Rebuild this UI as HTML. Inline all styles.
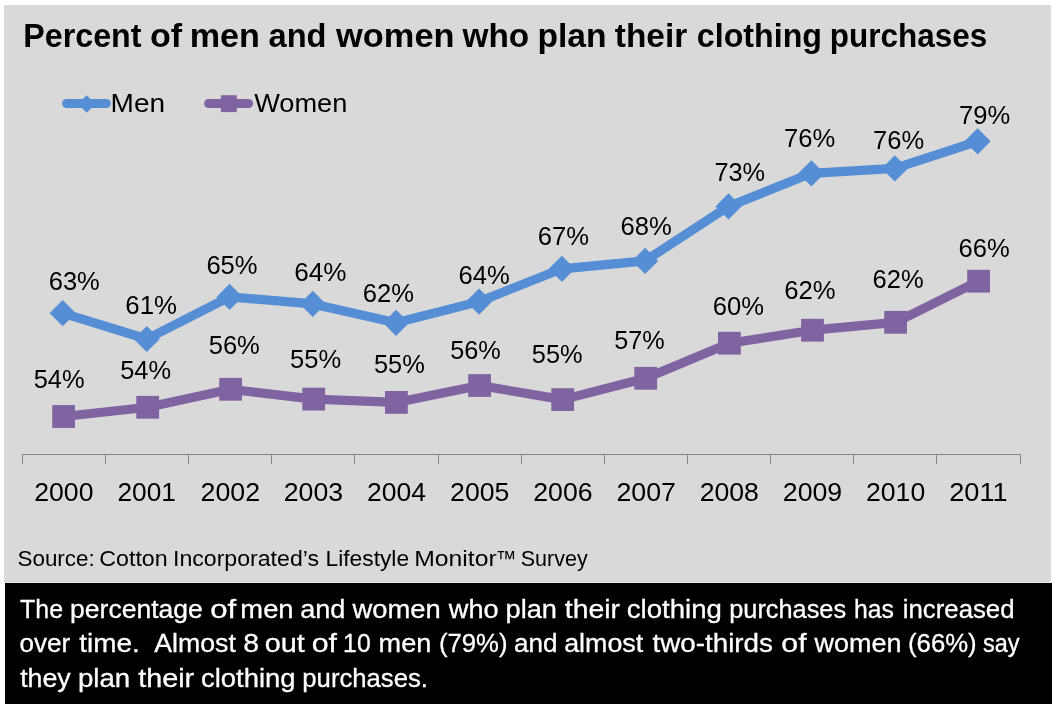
<!DOCTYPE html>
<html lang="en"><head><meta charset="utf-8"><title>Percent of men and women who plan their clothing purchases</title>
<style>html,body{margin:0;padding:0;background:#fff;}body{width:1052px;height:713px;overflow:hidden;}svg{display:block;font-family:"Liberation Sans",Arial,Helvetica,sans-serif;}</style>
</head><body>
<svg width="1052" height="713" viewBox="0 0 1052 713">
<rect x="0" y="0" width="1052" height="713" fill="#fff"/>
<rect x="4" y="5" width="1047" height="578" fill="#d9d9d9"/>
<rect x="5" y="582" width="1047" height="1" fill="#e8e8e8"/>
<rect x="5" y="583" width="1047" height="121" fill="#000"/>
<g id="title">
<text x="23.35" y="46.70" font-size="33.6" font-weight="bold" fill="#000" textLength="118.15" lengthAdjust="spacingAndGlyphs">Percent</text>
<text x="150.07" y="46.70" font-size="33.6" font-weight="bold" fill="#000" textLength="32.16" lengthAdjust="spacingAndGlyphs">of</text>
<text x="189.75" y="46.70" font-size="33.6" font-weight="bold" fill="#000" textLength="70.17" lengthAdjust="spacingAndGlyphs">men</text>
<text x="268.54" y="46.70" font-size="33.6" font-weight="bold" fill="#000" textLength="58.01" lengthAdjust="spacingAndGlyphs">and</text>
<text x="336.10" y="46.70" font-size="33.6" font-weight="bold" fill="#000" textLength="118.43" lengthAdjust="spacingAndGlyphs">women</text>
<text x="462.50" y="46.70" font-size="33.6" font-weight="bold" fill="#000" textLength="66.71" lengthAdjust="spacingAndGlyphs">who</text>
<text x="537.38" y="46.70" font-size="33.6" font-weight="bold" fill="#000" textLength="69.10" lengthAdjust="spacingAndGlyphs">plan</text>
<text x="614.79" y="46.70" font-size="33.6" font-weight="bold" fill="#000" textLength="72.41" lengthAdjust="spacingAndGlyphs">their</text>
<text x="696.84" y="46.70" font-size="33.6" font-weight="bold" fill="#000" textLength="125.11" lengthAdjust="spacingAndGlyphs">clothing</text>
<text x="829.83" y="46.70" font-size="33.6" font-weight="bold" fill="#000" textLength="157.36" lengthAdjust="spacingAndGlyphs">purchases</text>
</g>
<g id="legend">
<line x1="66.65" y1="103.5" x2="106.35" y2="103.5" stroke="#558ed5" stroke-width="9.1" stroke-linecap="round"/>
<path d="M86.7 95.3 L95.4 104 L86.7 112.7 L78 104 Z" fill="#558ed5"/>
<text x="110.60" y="112.00" font-size="25.6" fill="#000" textLength="54.52" lengthAdjust="spacingAndGlyphs">Men</text>
<line x1="208.65" y1="103.55" x2="248.55" y2="103.55" stroke="#8064a2" stroke-width="9.1" stroke-linecap="round"/>
<rect x="220.9" y="95.2" width="15.9" height="16.9" fill="#8064a2"/>
<text x="254.18" y="112.00" font-size="25.6" fill="#000" textLength="93.18" lengthAdjust="spacingAndGlyphs">Women</text>
</g>
<g id="axis" stroke="#868686" stroke-width="1" fill="none" shape-rendering="crispEdges">
<line x1="22" y1="454.5" x2="1021" y2="454.5"/>
<line x1="22.5" y1="454" x2="22.5" y2="464"/>
<line x1="105.5" y1="454" x2="105.5" y2="464"/>
<line x1="188.5" y1="454" x2="188.5" y2="464"/>
<line x1="271.5" y1="454" x2="271.5" y2="464"/>
<line x1="354.5" y1="454" x2="354.5" y2="464"/>
<line x1="438.5" y1="454" x2="438.5" y2="464"/>
<line x1="521.5" y1="454" x2="521.5" y2="464"/>
<line x1="604.5" y1="454" x2="604.5" y2="464"/>
<line x1="687.5" y1="454" x2="687.5" y2="464"/>
<line x1="770.5" y1="454" x2="770.5" y2="464"/>
<line x1="853.5" y1="454" x2="853.5" y2="464"/>
<line x1="936.5" y1="454" x2="936.5" y2="464"/>
<line x1="1020.5" y1="454" x2="1020.5" y2="464"/>
</g>
<polyline points="63.6,416.5 147.7,407.3 230.6,389.3 313.7,399.1 396.4,402.4 479.6,385.5 562.7,399.6 645.7,378.3 729.4,343.2 812.5,330.2 895.6,322.3 978.6,281.2" fill="none" stroke="#8064a2" stroke-width="9.2" stroke-linejoin="round" stroke-linecap="round"/>
<rect x="52.2" y="405.1" width="22.8" height="22.8" fill="#8064a2"/>
<rect x="136.3" y="395.9" width="22.8" height="22.8" fill="#8064a2"/>
<rect x="219.2" y="377.9" width="22.8" height="22.8" fill="#8064a2"/>
<rect x="302.3" y="387.7" width="22.8" height="22.8" fill="#8064a2"/>
<rect x="385.0" y="391.0" width="22.8" height="22.8" fill="#8064a2"/>
<rect x="468.2" y="374.1" width="22.8" height="22.8" fill="#8064a2"/>
<rect x="551.3" y="388.2" width="22.8" height="22.8" fill="#8064a2"/>
<rect x="634.3" y="366.9" width="22.8" height="22.8" fill="#8064a2"/>
<rect x="718.0" y="331.8" width="22.8" height="22.8" fill="#8064a2"/>
<rect x="801.1" y="318.8" width="22.8" height="22.8" fill="#8064a2"/>
<rect x="884.2" y="310.9" width="22.8" height="22.8" fill="#8064a2"/>
<rect x="967.2" y="269.8" width="22.8" height="22.8" fill="#8064a2"/>
<polyline points="62.7,313.2 146.8,339.0 229.6,296.9 312.8,303.9 396.1,322.8 479.1,301.6 561.9,268.8 645.1,260.9 728.5,206.4 811.4,173.3 894.8,168.4 977.6,141.3" fill="none" stroke="#558ed5" stroke-width="9.2" stroke-linejoin="round" stroke-linecap="round"/>
<path d="M62.7 300.1 L75.8 313.2 L62.7 326.3 L49.6 313.2 Z" fill="#558ed5"/>
<path d="M146.8 325.9 L159.9 339.0 L146.8 352.1 L133.7 339.0 Z" fill="#558ed5"/>
<path d="M229.6 283.8 L242.7 296.9 L229.6 310.0 L216.5 296.9 Z" fill="#558ed5"/>
<path d="M312.8 290.8 L325.9 303.9 L312.8 317.0 L299.7 303.9 Z" fill="#558ed5"/>
<path d="M396.1 309.7 L409.2 322.8 L396.1 335.9 L383.0 322.8 Z" fill="#558ed5"/>
<path d="M479.1 288.5 L492.2 301.6 L479.1 314.7 L466.0 301.6 Z" fill="#558ed5"/>
<path d="M561.9 255.7 L575.0 268.8 L561.9 281.9 L548.8 268.8 Z" fill="#558ed5"/>
<path d="M645.1 247.8 L658.2 260.9 L645.1 274.0 L632.0 260.9 Z" fill="#558ed5"/>
<path d="M728.5 193.3 L741.6 206.4 L728.5 219.5 L715.4 206.4 Z" fill="#558ed5"/>
<path d="M811.4 160.2 L824.5 173.3 L811.4 186.4 L798.3 173.3 Z" fill="#558ed5"/>
<path d="M894.8 155.3 L907.9 168.4 L894.8 181.5 L881.7 168.4 Z" fill="#558ed5"/>
<path d="M977.6 128.2 L990.7 141.3 L977.6 154.4 L964.5 141.3 Z" fill="#558ed5"/>
<g id="labels">
<text x="48.70" y="289.60" font-size="25.3" fill="#000" textLength="51.11" lengthAdjust="spacingAndGlyphs">63%</text>
<text x="125.39" y="313.80" font-size="25.3" fill="#000" textLength="51.73" lengthAdjust="spacingAndGlyphs">61%</text>
<text x="206.40" y="274.20" font-size="25.3" fill="#000" textLength="51.21" lengthAdjust="spacingAndGlyphs">65%</text>
<text x="294.17" y="280.80" font-size="25.3" fill="#000" textLength="52.26" lengthAdjust="spacingAndGlyphs">64%</text>
<text x="362.70" y="301.50" font-size="25.3" fill="#000" textLength="51.21" lengthAdjust="spacingAndGlyphs">62%</text>
<text x="458.50" y="284.20" font-size="25.3" fill="#000" textLength="51.21" lengthAdjust="spacingAndGlyphs">64%</text>
<text x="537.70" y="244.50" font-size="25.3" fill="#000" textLength="51.21" lengthAdjust="spacingAndGlyphs">67%</text>
<text x="620.50" y="235.30" font-size="25.3" fill="#000" textLength="51.21" lengthAdjust="spacingAndGlyphs">68%</text>
<text x="714.40" y="180.50" font-size="25.3" fill="#000" textLength="50.70" lengthAdjust="spacingAndGlyphs">73%</text>
<text x="783.99" y="146.50" font-size="25.3" fill="#000" textLength="51.22" lengthAdjust="spacingAndGlyphs">76%</text>
<text x="872.99" y="148.80" font-size="25.3" fill="#000" textLength="51.12" lengthAdjust="spacingAndGlyphs">76%</text>
<text x="958.99" y="123.60" font-size="25.3" fill="#000" textLength="51.12" lengthAdjust="spacingAndGlyphs">79%</text>
<text x="33.68" y="388.30" font-size="25.3" fill="#000" textLength="50.93" lengthAdjust="spacingAndGlyphs">54%</text>
<text x="120.18" y="378.90" font-size="25.3" fill="#000" textLength="50.93" lengthAdjust="spacingAndGlyphs">54%</text>
<text x="208.68" y="354.40" font-size="25.3" fill="#000" textLength="51.13" lengthAdjust="spacingAndGlyphs">56%</text>
<text x="289.98" y="367.50" font-size="25.3" fill="#000" textLength="51.13" lengthAdjust="spacingAndGlyphs">55%</text>
<text x="373.98" y="373.40" font-size="25.3" fill="#000" textLength="50.93" lengthAdjust="spacingAndGlyphs">55%</text>
<text x="450.19" y="358.60" font-size="25.3" fill="#000" textLength="50.61" lengthAdjust="spacingAndGlyphs">56%</text>
<text x="531.88" y="362.70" font-size="25.3" fill="#000" textLength="50.82" lengthAdjust="spacingAndGlyphs">55%</text>
<text x="614.19" y="349.40" font-size="25.3" fill="#000" textLength="50.51" lengthAdjust="spacingAndGlyphs">57%</text>
<text x="712.70" y="314.80" font-size="25.3" fill="#000" textLength="51.21" lengthAdjust="spacingAndGlyphs">60%</text>
<text x="784.30" y="298.60" font-size="25.3" fill="#000" textLength="51.42" lengthAdjust="spacingAndGlyphs">62%</text>
<text x="872.50" y="287.80" font-size="25.3" fill="#000" textLength="51.11" lengthAdjust="spacingAndGlyphs">62%</text>
<text x="958.50" y="257.40" font-size="25.3" fill="#000" textLength="51.21" lengthAdjust="spacingAndGlyphs">66%</text>
</g>
<g id="years">
<text x="34.25" y="500.60" font-size="25.3" fill="#000" textLength="59.18" lengthAdjust="spacingAndGlyphs">2000</text>
<text x="117.44" y="500.60" font-size="25.3" fill="#000" textLength="58.40" lengthAdjust="spacingAndGlyphs">2001</text>
<text x="200.59" y="500.60" font-size="25.3" fill="#000" textLength="59.49" lengthAdjust="spacingAndGlyphs">2002</text>
<text x="283.77" y="500.60" font-size="25.3" fill="#000" textLength="59.31" lengthAdjust="spacingAndGlyphs">2003</text>
<text x="366.96" y="500.60" font-size="25.3" fill="#000" textLength="58.91" lengthAdjust="spacingAndGlyphs">2004</text>
<text x="450.12" y="500.60" font-size="25.3" fill="#000" textLength="59.26" lengthAdjust="spacingAndGlyphs">2005</text>
<text x="533.30" y="500.60" font-size="25.3" fill="#000" textLength="59.31" lengthAdjust="spacingAndGlyphs">2006</text>
<text x="616.47" y="500.60" font-size="25.3" fill="#000" textLength="59.49" lengthAdjust="spacingAndGlyphs">2007</text>
<text x="699.65" y="500.60" font-size="25.3" fill="#000" textLength="59.30" lengthAdjust="spacingAndGlyphs">2008</text>
<text x="782.82" y="500.60" font-size="25.3" fill="#000" textLength="59.41" lengthAdjust="spacingAndGlyphs">2009</text>
<text x="866.00" y="500.60" font-size="25.3" fill="#000" textLength="59.18" lengthAdjust="spacingAndGlyphs">2010</text>
<text x="949.19" y="500.60" font-size="25.3" fill="#000" textLength="58.40" lengthAdjust="spacingAndGlyphs">2011</text>
</g>
<g id="source">
<text x="17.48" y="566.30" font-size="21.6" fill="#000" textLength="77.27" lengthAdjust="spacingAndGlyphs">Source:</text>
<text x="99.22" y="566.30" font-size="21.6" fill="#000" textLength="68.49" lengthAdjust="spacingAndGlyphs">Cotton</text>
<text x="172.97" y="566.30" font-size="21.6" fill="#000" textLength="146.06" lengthAdjust="spacingAndGlyphs">Incorporated’s</text>
<text x="325.53" y="566.30" font-size="21.6" fill="#000" textLength="83.58" lengthAdjust="spacingAndGlyphs">Lifestyle</text>
<text x="414.17" y="566.30" font-size="21.6" fill="#000" textLength="82.54" lengthAdjust="spacingAndGlyphs">Monitor</text>
<text x="495.71" y="566.30" font-size="21.6" fill="#000" textLength="20.62" lengthAdjust="spacingAndGlyphs">™</text>
<text x="520.72" y="566.30" font-size="21.6" fill="#000" textLength="66.92" lengthAdjust="spacingAndGlyphs">Survey</text>
</g>
<g id="caption" stroke="#fff" stroke-width="0.3">
<text x="20.04" y="617.50" font-size="26.1" fill="#fff" textLength="42.97" lengthAdjust="spacingAndGlyphs">The</text>
<text x="70.09" y="617.50" font-size="26.1" fill="#fff" textLength="132.69" lengthAdjust="spacingAndGlyphs">percentage</text>
<text x="210.19" y="617.50" font-size="26.1" fill="#fff" textLength="25.96" lengthAdjust="spacingAndGlyphs">of</text>
<text x="240.38" y="617.50" font-size="26.1" fill="#fff" textLength="53.19" lengthAdjust="spacingAndGlyphs">men</text>
<text x="300.15" y="617.50" font-size="26.1" fill="#fff" textLength="45.30" lengthAdjust="spacingAndGlyphs">and</text>
<text x="352.44" y="617.50" font-size="26.1" fill="#fff" textLength="88.24" lengthAdjust="spacingAndGlyphs">women</text>
<text x="448.84" y="617.50" font-size="26.1" fill="#fff" textLength="49.80" lengthAdjust="spacingAndGlyphs">who</text>
<text x="505.55" y="617.50" font-size="26.1" fill="#fff" textLength="51.42" lengthAdjust="spacingAndGlyphs">plan</text>
<text x="564.87" y="617.50" font-size="26.1" fill="#fff" textLength="55.20" lengthAdjust="spacingAndGlyphs">their</text>
<text x="626.73" y="617.50" font-size="26.1" fill="#fff" textLength="95.26" lengthAdjust="spacingAndGlyphs">clothing</text>
<text x="729.27" y="617.50" font-size="26.1" fill="#fff" textLength="116.85" lengthAdjust="spacingAndGlyphs">purchases</text>
<text x="854.08" y="617.50" font-size="26.1" fill="#fff" textLength="39.91" lengthAdjust="spacingAndGlyphs">has</text>
<text x="902.78" y="617.50" font-size="26.1" fill="#fff" textLength="111.79" lengthAdjust="spacingAndGlyphs">increased</text>
<text x="19.50" y="652.40" font-size="26.1" fill="#fff" textLength="50.83" lengthAdjust="spacingAndGlyphs">over</text>
<text x="79.28" y="652.40" font-size="26.1" fill="#fff" textLength="60.47" lengthAdjust="spacingAndGlyphs">time.</text>
<text x="154.25" y="652.40" font-size="26.1" fill="#fff" textLength="81.65" lengthAdjust="spacingAndGlyphs">Almost</text>
<text x="243.17" y="652.40" font-size="26.1" fill="#fff" textLength="15.76" lengthAdjust="spacingAndGlyphs">8</text>
<text x="264.69" y="652.40" font-size="26.1" fill="#fff" textLength="40.02" lengthAdjust="spacingAndGlyphs">out</text>
<text x="311.73" y="652.40" font-size="26.1" fill="#fff" textLength="25.23" lengthAdjust="spacingAndGlyphs">of</text>
<text x="343.11" y="652.40" font-size="26.1" fill="#fff" textLength="27.55" lengthAdjust="spacingAndGlyphs">10</text>
<text x="378.60" y="652.40" font-size="26.1" fill="#fff" textLength="52.76" lengthAdjust="spacingAndGlyphs">men</text>
<text x="438.91" y="652.40" font-size="26.1" fill="#fff" textLength="68.59" lengthAdjust="spacingAndGlyphs">(79%)</text>
<text x="513.99" y="652.40" font-size="26.1" fill="#fff" textLength="43.49" lengthAdjust="spacingAndGlyphs">and</text>
<text x="564.16" y="652.40" font-size="26.1" fill="#fff" textLength="79.04" lengthAdjust="spacingAndGlyphs">almost</text>
<text x="652.48" y="652.40" font-size="26.1" fill="#fff" textLength="120.53" lengthAdjust="spacingAndGlyphs">two-thirds</text>
<text x="781.33" y="652.40" font-size="26.1" fill="#fff" textLength="25.23" lengthAdjust="spacingAndGlyphs">of</text>
<text x="814.64" y="652.40" font-size="26.1" fill="#fff" textLength="86.81" lengthAdjust="spacingAndGlyphs">women</text>
<text x="908.00" y="652.40" font-size="26.1" fill="#fff" textLength="68.69" lengthAdjust="spacingAndGlyphs">(66%)</text>
<text x="982.95" y="652.40" font-size="26.1" fill="#fff" textLength="36.60" lengthAdjust="spacingAndGlyphs">say</text>
<text x="20.20" y="687.20" font-size="26.1" fill="#fff" textLength="50.56" lengthAdjust="spacingAndGlyphs">they</text>
<text x="77.92" y="687.20" font-size="26.1" fill="#fff" textLength="52.28" lengthAdjust="spacingAndGlyphs">plan</text>
<text x="138.16" y="687.20" font-size="26.1" fill="#fff" textLength="56.01" lengthAdjust="spacingAndGlyphs">their</text>
<text x="201.03" y="687.20" font-size="26.1" fill="#fff" textLength="94.64" lengthAdjust="spacingAndGlyphs">clothing</text>
<text x="302.35" y="687.20" font-size="26.1" fill="#fff" textLength="125.60" lengthAdjust="spacingAndGlyphs">purchases.</text>
</g>
</svg>
</body></html>
